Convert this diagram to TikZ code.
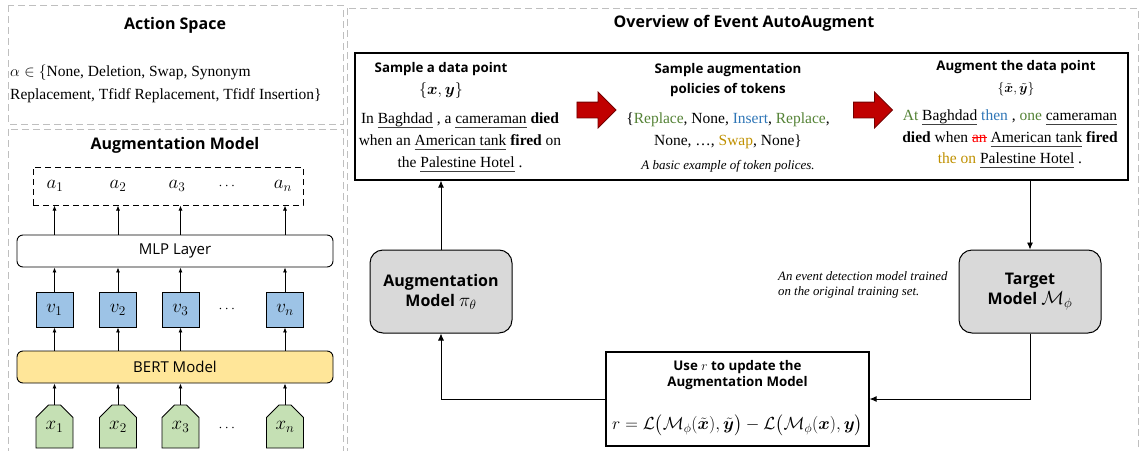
\documentclass[tikz,border=0pt]{standalone}
\usepackage{fix-cm}
\usepackage{amsmath,amssymb,bm}
\usepackage{fontspec}
\setmainfont{Liberation Serif}
\newfontfamily\hdfont{Open Sans}
\usetikzlibrary{arrows.meta,shapes.misc,shapes.arrows}
\definecolor{dashgray}{HTML}{BFBFBF}
\definecolor{boxgray}{HTML}{D9D9D9}
\definecolor{vblue}{HTML}{9DC3E6}
\definecolor{bertyellow}{HTML}{FFE699}
\definecolor{xgreen}{HTML}{C5E0B4}
\definecolor{tgreen}{HTML}{548235}
\definecolor{tblue}{HTML}{2E75B6}
\definecolor{tgold}{HTML}{BF9000}
\definecolor{arrred}{HTML}{C00000}
\definecolor{ulgray}{HTML}{404040}
\newsavebox\ulbx
\newcommand\ulg[1]{\sbox\ulbx{#1}\rlap{\textcolor{ulgray}{\rule[-4pt]{\wd\ulbx}{0.8pt}}}\usebox\ulbx}
\newcommand\redso[1]{\sbox\ulbx{#1}\rlap{\textcolor{red}{\rule[0.6ex]{\wd\ulbx}{0.9pt}}}\usebox\ulbx}
\newcommand\bigmath[1]{{\fontsize{19}{19}\selectfont$#1$}}
\tikzset{
  dbox/.style={draw=dashgray, dash pattern=on 7pt off 4pt, line width=1pt},
  conn/.style={-{Latex[length=7pt,width=6pt]}, line width=0.9pt},
  sconn/.style={-{Latex[length=5pt,width=4pt]}, line width=0.8pt},
  ptitle/.style={font=\hdfont\bfseries\fontsize{16}{19}\selectfont},
  subhd/.style={font=\hdfont\bfseries\fontsize{13.3}{20.5}\selectfont, align=center},
  serif/.style={font=\fontsize{15.5}{22}\selectfont, align=center},
  mathlbl/.style={font=\fontsize{19}{20}\selectfont},
  layer/.style={draw, rounded corners=6pt, line width=0.9pt, minimum width=316pt, minimum height=32pt, inner sep=0pt, font=\hdfont\fontsize{15}{18}\selectfont},
  vbox/.style={draw, fill=vblue, line width=0.9pt, minimum width=37pt, minimum height=35pt, inner sep=0pt, font=\fontsize{19}{20}\selectfont},
  xbox/.style={draw, fill=xgreen, line width=0.9pt, chamfered rectangle, chamfered rectangle corners={north east,north west}, chamfered rectangle xsep=7pt, chamfered rectangle ysep=7pt, minimum width=37pt, minimum height=43pt, inner sep=0pt, font=\fontsize{19}{20}\selectfont},
  graybox/.style={draw, fill=boxgray, rounded corners=13pt, line width=1pt, minimum width=142pt, minimum height=83pt, inner sep=0pt, align=center, font=\hdfont\bfseries\fontsize{16}{20}\selectfont},
  solidbox/.style={draw, line width=1.2pt, inner sep=0pt},
  rarrow/.style={single arrow, draw=arrred!60!black, fill=arrred, line width=0.8pt, minimum height=39pt, single arrow head extend=10pt, inner xsep=0pt, inner ysep=7.5pt},
}
\begin{document}
\begin{tikzpicture}[x=1pt,y=-1pt]
\useasboundingbox (0,0) rectangle (1143,450);
% panels
\draw[dbox] (8,5) rectangle (343,124);
\draw[dbox] (8,129) rectangle (343,470);
\draw[dbox] (347,8) rectangle (1138,470);
% ---- left: action space
\node[ptitle] (tas) at (175,25) {Action Space};
\node[font=\fontsize{15.5}{23}\selectfont, align=left, anchor=west, inner sep=0pt] (astext) at (10,83.5)
  {$\alpha\in\{$None, Deletion, Swap, Synonym\\Replacement, Tfidf Replacement, Tfidf Insertion\}};
% ---- left: augmentation model
\node[ptitle] (tam) at (175,145) {Augmentation Model};
\node[draw, dashed, dash pattern=on 6pt off 4pt, line width=1pt, minimum width=270pt, minimum height=38pt, inner sep=0pt] (abox) at (168,186) {};
\node[mathlbl] (a1) at (55,186) {$a_1$};
\node[mathlbl] (a2) at (118,186) {$a_2$};
\node[mathlbl] (a3) at (177,186) {$a_3$};
\node[mathlbl, font=\fontsize{14}{14}\selectfont] (ad) at (228,186) {$\cdots$};
\node[mathlbl] (an) at (283,186) {$a_n$};
\node[layer, fill=white] (mlp) at (175,251) {MLP Layer};
\node[vbox] (v1) at (54.5,309.5) {$v_1$};
\node[vbox] (v2) at (118,309.5) {$v_2$};
\node[vbox] (v3) at (180.5,309.5) {$v_3$};
\node[mathlbl, font=\fontsize{14}{14}\selectfont] (vd) at (228,309.5) {$\cdots$};
\node[vbox] (vn) at (285,309.5) {$v_n$};
\node[layer, fill=bertyellow] (bert) at (175,367) {BERT Model};
\node[xbox] (x1) at (54.5,426.5) {$x_1$};
\node[xbox] (x2) at (118,426.5) {$x_2$};
\node[xbox] (x3) at (180.5,426.5) {$x_3$};
\node[mathlbl, font=\fontsize{14}{14}\selectfont] (xd) at (228,428) {$\cdots$};
\node[xbox] (xn) at (285,426.5) {$x_n$};
\foreach \i in {1,2,3,n}{
  \draw[sconn] (x\i.north) -- (x\i.north |- bert.south);
  \draw[sconn] (v\i.south |- bert.north) -- (v\i.south);
  \draw[sconn] (v\i.north) -- (v\i.north |- mlp.south);
  \draw[sconn] (v\i.north |- mlp.north) -- (v\i.north |- abox.south);
}
% ---- right: overview
\node[ptitle] (tov) at (744,23) {Overview of Event AutoAugment};
\node[solidbox, minimum width=773pt, minimum height=127pt] (top) at (741.5,116.5) {};
\node[subhd] (h1) at (441,69) {Sample a data point};
\node[font=\fontsize{16}{18}\selectfont] (xy) at (441,90) {$\{\bm{x},\bm{y}\}$};
\node[serif] (s1) at (460,142.5) {In \ulg{Baghdad} , a \ulg{cameraman} \textbf{died}\\when an \ulg{American tank} \textbf{fired} on\\the \ulg{Palestine Hotel} .};
\node[rarrow] (ra1) at (592.5,110) {};
\node[subhd] (h2) at (728,80) {Sample augmentation\\policies of tokens};
\node[serif] (pol) at (728,131) {\{\textcolor{tgreen}{Replace}, None, \textcolor{tblue}{Insert}, \textcolor{tgreen}{Replace},\\None, …, \textcolor{tgold}{Swap}, None\}};
\node[font=\itshape\fontsize{13}{15}\selectfont] (ex) at (728,166) {A basic example of token polices.};
\node[rarrow] (ra2) at (869,110) {};
\node[subhd, inner sep=1pt] (h3) at (1016,67) {Augment the data point};
\node[font=\fontsize{13.5}{16}\selectfont, inner sep=0pt] (xty) at (1016,89) {$\{\tilde{\bm{x}},\tilde{\bm{y}}\}$};
\node[serif, font=\fontsize{15.5}{21.5}\selectfont] (s2) at (1010,139) {\textcolor{tgreen}{At} \ulg{Baghdad} \textcolor{tblue}{then} , \textcolor{tgreen}{one} \ulg{cameraman}\\\textbf{died} when \textcolor{red}{\redso{an}} \ulg{American tank} \textbf{fired}\\\textcolor{tgold}{the on} \ulg{Palestine Hotel} .};
% models
\node[graybox] (augm) at (441,291.5) {Augmentation\\Model \bigmath{\pi_\theta}};
\node[graybox] (target) at (1030,291.5) {Target\\Model \bigmath{\mathcal{M}_\phi}};
\node[font=\itshape\fontsize{12.8}{15}\selectfont, align=left, anchor=west, inner sep=0pt] (note) at (778,285) {An event detection model trained\\on the original training set.};
% update box
\node[solidbox, minimum width=263pt, minimum height=94pt] (upd) at (737.5,399) {};
\node[subhd, font=\hdfont\bfseries\fontsize{13.3}{16}\selectfont] (uh) at (737.5,375) {Use $r$ to update the\\Augmentation Model};
\node[font=\fontsize{17.5}{18}\selectfont, inner sep=0pt] (form) at (737.5,425) {$r=\mathcal{L}\big(\mathcal{M}_\phi(\tilde{\bm{x}}),\tilde{\bm{y}}\big)-\mathcal{L}\big(\mathcal{M}_\phi(\bm{x}),\bm{y}\big)$};
% connectors
\draw[conn] (augm.north) -- (augm.north |- top.south);
\draw[conn] (top.south -| target.north) -- (target.north);
\draw[conn] (target.south) |- (upd.east);
\draw[conn] (upd.west) -| (augm.south);
\end{tikzpicture}
\end{document}
